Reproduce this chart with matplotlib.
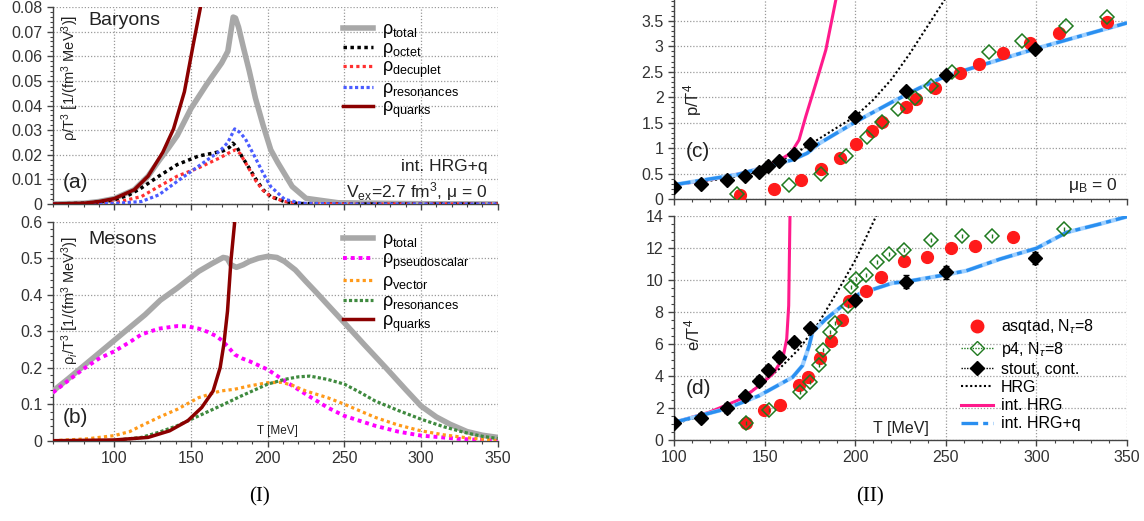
import matplotlib
matplotlib.use("Agg")
import matplotlib.pyplot as plt
from matplotlib.ticker import MultipleLocator, AutoMinorLocator, FuncFormatter
from matplotlib.lines import Line2D

plt.rcParams['font.family'] = ['Liberation Sans', 'DejaVu Sans']
plt.rcParams['mathtext.fontset'] = 'custom'
plt.rcParams['mathtext.rm'] = 'Liberation Sans'
plt.rcParams['mathtext.it'] = 'Liberation Sans:italic'
plt.rcParams['mathtext.bf'] = 'Liberation Sans:bold'

# ---------------- (a) Baryons ----------------
T_bar_total = [60, 80, 90, 100, 113, 122, 129, 135, 141, 150, 160, 170, 174, 176, 177.5, 179, 181, 184, 188, 192, 197, 202, 206.6, 216, 225, 246, 300, 350]
bar_total = [0, 0.0003, 0.001, 0.0022, 0.0058, 0.0113, 0.0175, 0.0225, 0.0278, 0.0388, 0.0484, 0.0573, 0.062, 0.070, 0.0759, 0.0755, 0.0718, 0.064, 0.054, 0.043, 0.032, 0.022, 0.0168, 0.0071, 0.0023, 0.0005, 0.0001, 0]
T_bar_octet = [60, 80, 90, 100, 110, 117.6, 129, 141, 155, 164, 171, 175, 177.3, 180, 183, 188, 192.5, 197, 202, 211, 220, 250, 350]
bar_octet = [0, 0.0003, 0.0008, 0.0016, 0.0038, 0.0065, 0.0113, 0.016, 0.0195, 0.0206, 0.0216, 0.023, 0.0247, 0.023, 0.0195, 0.0145, 0.0099, 0.0058, 0.003, 0.001, 0.0002, 0, 0]
T_bar_dec = [60, 90, 100, 117.6, 129, 141, 155, 169, 176, 179, 182, 185.5, 192.5, 197, 202, 211, 220, 250, 350]
bar_dec = [0, 0.0002, 0.0005, 0.003, 0.0071, 0.0113, 0.0147, 0.0188, 0.0212, 0.022, 0.0205, 0.0168, 0.0092, 0.0055, 0.003, 0.001, 0.0002, 0, 0]
T_bar_res = [60, 100, 117.6, 129, 141, 155, 169, 174, 178.5, 182, 185.5, 192.5, 197, 202, 211, 222, 250, 350]
bar_res = [0, 0.0002, 0.001, 0.0037, 0.0092, 0.0154, 0.0216, 0.025, 0.0305, 0.029, 0.0264, 0.0181, 0.0125, 0.0071, 0.0019, 0.0003, 0, 0]
T_bar_q = [60, 80, 90, 100, 113, 122, 131.6, 138.6, 145.7, 151.5, 156.2, 158]
bar_q = [0, 0.0003, 0.001, 0.0022, 0.0058, 0.0113, 0.021, 0.0305, 0.0456, 0.0649, 0.080, 0.088]

# ---------------- (b) Mesons ----------------
T_mes_total = [60, 70, 80, 90, 100, 110, 120, 130, 141, 155, 164, 171, 173.5, 176, 179.6, 184, 188, 194, 200, 206, 211, 218, 225, 232, 239, 250, 262.8, 277, 290, 300, 310, 319, 330, 340, 350]
mes_total = [0.136, 0.17, 0.205, 0.24, 0.275, 0.31, 0.345, 0.385, 0.418, 0.464, 0.486, 0.502, 0.500, 0.482, 0.475, 0.482, 0.491, 0.50, 0.505, 0.502, 0.491, 0.468, 0.436, 0.405, 0.373, 0.323, 0.264, 0.20, 0.14, 0.095, 0.065, 0.045, 0.025, 0.015, 0.009]
T_mes_ps = [60, 70, 80, 90, 100, 110, 117.6, 129, 141, 148, 155, 161, 166.7, 170, 173.8, 178.5, 183, 188, 200, 211, 225, 239, 250, 270, 285, 300, 325, 350]
mes_ps = [0.132, 0.165, 0.197, 0.225, 0.245, 0.27, 0.291, 0.307, 0.314, 0.313, 0.307, 0.298, 0.286, 0.275, 0.259, 0.236, 0.226, 0.218, 0.195, 0.164, 0.127, 0.091, 0.068, 0.041, 0.025, 0.014, 0.005, 0]
T_mes_vec = [60, 82, 100, 110, 117.6, 129, 141, 155, 169, 178.5, 188, 200, 209, 216, 225, 239, 250, 260, 270, 285, 300, 315, 328, 350]
mes_vec = [0, 0.005, 0.014, 0.025, 0.041, 0.064, 0.086, 0.118, 0.136, 0.141, 0.15, 0.159, 0.16, 0.152, 0.136, 0.118, 0.10, 0.082, 0.064, 0.043, 0.027, 0.016, 0.009, 0]
T_mes_res = [60, 90, 100, 117.6, 129, 141, 155, 169, 183, 200, 211, 220, 227.6, 239, 250, 260, 270, 285, 300, 315, 328, 340, 350]
mes_res = [0, 0, 0.001, 0.009, 0.023, 0.041, 0.068, 0.095, 0.123, 0.155, 0.168, 0.175, 0.177, 0.168, 0.155, 0.133, 0.109, 0.083, 0.059, 0.038, 0.023, 0.012, 0.006]
T_mes_q = [60, 100, 122, 136, 148, 157, 164.4, 169, 171.4, 173.8, 176, 178.5, 179]
mes_q = [0, 0.002, 0.009, 0.027, 0.055, 0.091, 0.136, 0.20, 0.264, 0.355, 0.491, 0.60, 0.63]

# ---------------- (c), (d) lattice data ----------------
T_stout = [100, 115, 129, 139, 147, 152, 158, 166, 175, 200, 228, 250, 299]
p_stout = [0.23, 0.29, 0.37, 0.46, 0.54, 0.64, 0.74, 0.89, 1.08, 1.62, 2.13, 2.44, 2.95]
e_stout = [1.06, 1.40, 2.0, 2.73, 3.67, 4.40, 5.17, 6.10, 6.98, 8.77, 9.90, 10.48, 11.38]
e_stout_err = [0.1, 0.3, 0.3, 0.3, 0.3, 0.3, 0.3, 0.3, 0.3, 0.3, 0.4, 0.4, 0.4]

T_asq_p = [136.6, 155.4, 170, 181, 191.4, 200.6, 209, 214.8, 228, 233.5, 244, 257.9, 268.4, 281.8, 296.7, 312.5, 338.9]
p_asq = [0.085, 0.20, 0.38, 0.58, 0.80, 1.08, 1.33, 1.51, 1.80, 1.96, 2.19, 2.47, 2.65, 2.87, 3.06, 3.26, 3.47]
T_asq_e = [140, 149.6, 158.3, 169, 174.1, 180.4, 186.8, 192.5, 196.6, 206.2, 214.4, 227.2, 239.7, 252.6, 266.2, 286.9]
e_asq = [1.04, 1.90, 2.21, 3.46, 3.92, 5.13, 6.21, 7.5, 8.71, 9.33, 10.21, 11.21, 11.42, 11.98, 12.10, 12.71]

T_p4_p = [134.9, 163.2, 181, 194.8, 206.3, 215, 223.4, 233, 242, 253.2, 273.9, 291.8, 316.3, 338.9]
p_p4 = [0.09, 0.27, 0.50, 0.84, 1.22, 1.51, 1.76, 1.98, 2.22, 2.49, 2.88, 3.11, 3.39, 3.58]
T_p4_e = [140, 152.7, 169.3, 174.9, 180.1, 182.5, 186, 188.8, 195.8, 197.6, 200.7, 205.9, 212.3, 218.8, 227.2, 242, 259, 275.3, 315]
e_p4 = [1.06, 1.90, 2.98, 3.60, 4.69, 5.63, 6.73, 7.31, 8.40, 9.54, 10.06, 10.33, 11.15, 11.63, 11.88, 12.5, 12.73, 12.73, 13.19]

# model curves
T_hrg_p = [100, 120, 140, 150, 158, 166, 175, 187.5, 200, 210, 220, 230, 240, 250]
p_hrg = [0.28, 0.36, 0.48, 0.58, 0.72, 0.88, 1.07, 1.35, 1.62, 1.95, 2.35, 2.85, 3.4, 3.95]
T_ihrg_p = [100, 115, 130, 140, 150, 158, 164.5, 169, 172.7, 178.3, 183.8, 189.3, 190.5]
p_ihrg = [0.28, 0.35, 0.45, 0.53, 0.63, 0.76, 0.90, 1.16, 1.62, 2.27, 2.93, 3.91, 4.1]
T_ihrgq_p = [100, 135, 158, 165.4, 173.5, 180.1, 200.4, 220.6, 235.4, 250.4, 300.2, 350]
p_ihrgq = [0.28, 0.48, 0.70, 0.77, 0.90, 1.09, 1.52, 1.91, 2.18, 2.42, 2.96, 3.46]

T_hrg_e = [100, 128.5, 147, 158, 169, 180, 191, 200.4, 211.4, 213]
e_hrg = [1.0, 1.94, 3.4, 4.44, 5.69, 7.35, 9.44, 11.31, 13.96, 14.3]
T_ihrg_e = [100, 119.3, 137.8, 147, 154.5, 160, 162.2, 163.3, 164, 164.1]
e_ihrg = [1.1, 1.73, 2.6, 3.4, 4.13, 5.06, 6.31, 8.4, 14, 14.5]
T_ihrgq_e = [100, 128.5, 147, 165.4, 170.9, 174.6, 176.4, 183.8, 193, 202.2, 220.6, 228.2, 250, 261.4, 280, 300, 316.8, 335, 350]
e_ihrgq = [1.1, 1.94, 2.77, 3.92, 4.65, 5.9, 6.73, 7.56, 8.40, 9.13, 9.81, 9.9, 10.33, 10.58, 11.31, 11.98, 12.98, 13.5, 13.96]

# ---------------- figure ----------------
W, H = 1144, 521
fig = plt.figure(figsize=(W / 100, H / 100), dpi=100)
ax_a = fig.add_axes([53 / W, 1 - 204 / H, 444.7 / W, 197 / H])
ax_b = fig.add_axes([53 / W, 1 - 440.7 / H, 444.7 / W, 219 / H])
ax_c = fig.add_axes([674 / W, 1 - 199 / H, 453 / W, 199 / H])
ax_d = fig.add_axes([674 / W, 1 - 440 / H, 453 / W, 224 / H])

fmt = FuncFormatter(lambda v, p: '%g' % round(v, 6))
TXT = '#222222'


def style(ax, xlim, ylim, ymaj, yminor_n, xlabels):
    ax.set_xlim(*xlim)
    ax.set_ylim(*ylim)
    ax.xaxis.set_major_locator(MultipleLocator(50))
    ax.xaxis.set_minor_locator(MultipleLocator(10))
    ax.yaxis.set_major_locator(MultipleLocator(ymaj))
    ax.yaxis.set_minor_locator(AutoMinorLocator(yminor_n))
    ax.yaxis.set_major_formatter(fmt)
    ax.grid(True, which='major', ls=(0, (1, 1.5)), color='#9a9a9a', lw=0.9)
    ax.set_axisbelow(True)
    for s in ('top', 'right'):
        ax.spines[s].set_visible(False)
    for s in ('left', 'bottom'):
        ax.spines[s].set_color('#444444')
        ax.spines[s].set_linewidth(1.0)
    ax.tick_params(which='major', direction='out', length=4, width=1, colors='#444444',
                   labelsize=11.5, labelcolor='#333333')
    ax.tick_params(which='minor', direction='out', length=2.5, width=0.8, colors='#444444')
    if not xlabels:
        ax.tick_params(axis='x', labelbottom=False)


LEG = dict(frameon=False, fontsize=13, handlelength=1.7, borderaxespad=0, handletextpad=0.5)

# ---- (a)
style(ax_a, (60, 350), (0, 0.08), 0.01, 5, False)
ax_a.plot(T_bar_total, bar_total, color='#a8a8a8', lw=4, label='ρ$_{\\mathrm{total}}$', zorder=3)
ax_a.plot(T_bar_octet, bar_octet, color='black', lw=2.5, ls=(0, (1, 1)), label='ρ$_{\\mathrm{octet}}$', zorder=4)
ax_a.plot(T_bar_dec, bar_dec, color='#ff3030', lw=2.3, ls=(0, (1, 1)), label='ρ$_{\\mathrm{decuplet}}$', zorder=4)
ax_a.plot(T_bar_res, bar_res, color='#4a5cff', lw=2.3, ls=(0, (1, 0.8)), label='ρ$_{\\mathrm{resonances}}$', zorder=4)
ax_a.plot(T_bar_q, bar_q, color='#8b0000', lw=2.5, label='ρ$_{\\mathrm{quarks}}$', zorder=5)
ax_a.legend(loc='upper left', bbox_to_anchor=(0.635, 0.965), labelspacing=0.0, **LEG)
ax_a.text(0.08, 0.93, 'Baryons', transform=ax_a.transAxes, fontsize=14, va='center', color=TXT)
ax_a.text(0.022, 0.11, '(a)', transform=ax_a.transAxes, fontsize=15, va='center', color=TXT)
ax_a.text(0.977, 0.19, 'int. HRG+q', transform=ax_a.transAxes, fontsize=12.5, ha='right', va='center', color=TXT)
ax_a.text(0.977, 0.065, 'V$_{\\mathrm{ex}}$=2.7 fm$^3$, μ = 0', transform=ax_a.transAxes, fontsize=12.5,
          ha='right', va='center', color=TXT)
ax_a.text(0.038, 0.64, 'ρ/T$^3$ $\\left[\\mathrm{1/(fm^3\\ MeV^3)}\\right]$', transform=ax_a.transAxes,
          rotation=90, fontsize=10.5, ha='center', va='center', color=TXT)

# ---- (b)
style(ax_b, (60, 350), (0, 0.6), 0.1, 5, True)
ax_b.plot(T_mes_total, mes_total, color='#a8a8a8', lw=4, label='ρ$_{\\mathrm{total}}$', zorder=3)
ax_b.plot(T_mes_ps, mes_ps, color='#ff00ff', lw=2.8, ls=(0, (1, 1)), label='ρ$_{\\mathrm{pseudoscalar}}$', zorder=4)
ax_b.plot(T_mes_vec, mes_vec, color='#ff9a1a', lw=2.3, ls=(0, (1, 1)), label='ρ$_{\\mathrm{vector}}$', zorder=4)
ax_b.plot(T_mes_res, mes_res, color='#3f8a3f', lw=2.3, ls=(0, (1, 0.7)), label='ρ$_{\\mathrm{resonances}}$', zorder=4)
ax_b.plot(T_mes_q, mes_q, color='#8b0000', lw=2.5, label='ρ$_{\\mathrm{quarks}}$', zorder=5)
ax_b.legend(loc='upper left', bbox_to_anchor=(0.635, 0.99), labelspacing=0.05, **LEG)
ax_b.text(0.08, 0.92, 'Mesons', transform=ax_b.transAxes, fontsize=14, va='center', color=TXT)
ax_b.text(0.022, 0.105, '(b)', transform=ax_b.transAxes, fontsize=15, va='center', color=TXT)
ax_b.text(0.505, 0.045, 'T [MeV]', transform=ax_b.transAxes, fontsize=8.5, ha='center', va='center', color=TXT)
ax_b.text(0.038, 0.64, 'ρ$_i$/T$^3$ $\\left[\\mathrm{1/(fm^3\\ MeV^3)}\\right]$', transform=ax_b.transAxes,
          rotation=90, fontsize=10.5, ha='center', va='center', color=TXT)

# ---- (c)
RED = '#ff1a1a'
GREEN = '#1f7a1f'
PINK = '#ff1a8c'
BLUE = '#2a8ff0'
style(ax_c, (100, 350), (0, 3.91), 0.5, 5, False)
ax_c.plot(T_hrg_p, p_hrg, color='black', lw=1.5, ls=(0, (1, 1.2)), zorder=3)
ax_c.plot(T_ihrg_p, p_ihrg, color=PINK, lw=2.2, zorder=3)
ax_c.plot(T_ihrgq_p, p_ihrgq, color='#9fd0ff', lw=3, zorder=3)
ax_c.plot(T_ihrgq_p, p_ihrgq, color=BLUE, lw=2.4, ls=(0, (5, 1.5, 1.5, 1.5)), zorder=3)
ax_c.plot(T_asq_p, p_asq, 'o', color=RED, ms=8.5, mec=RED, zorder=5)
ax_c.plot(T_p4_p, p_p4, 'D', ms=7, mfc='none', mec=GREEN, mew=1.1, zorder=6)
ax_c.plot(T_stout, p_stout, 'D', ms=7, color='black', zorder=7)
ax_c.text(0.025, 0.24, '(c)', transform=ax_c.transAxes, fontsize=15, va='center', color=TXT)
ax_c.text(0.04, 0.5, 'p/T$^4$', transform=ax_c.transAxes, rotation=90, fontsize=12, ha='center', va='center', color=TXT)
ax_c.text(0.978, 0.07, 'μ$_{\\mathrm{B}}$ = 0', transform=ax_c.transAxes, fontsize=12.5, ha='right', va='center', color=TXT)

# ---- (d)
style(ax_d, (100, 350), (0, 14), 2, 4, True)
ax_d.plot(T_hrg_e, e_hrg, color='black', lw=1.5, ls=(0, (1, 1.2)), zorder=3)
ax_d.plot(T_ihrg_e, e_ihrg, color=PINK, lw=2.2, zorder=3)
ax_d.plot(T_ihrgq_e, e_ihrgq, color='#9fd0ff', lw=3, zorder=3)
ax_d.plot(T_ihrgq_e, e_ihrgq, color=BLUE, lw=2.4, ls=(0, (5, 1.5, 1.5, 1.5)), zorder=3)
ax_d.plot(T_asq_e, e_asq, 'o', color=RED, ms=8.5, mec=RED, zorder=5)
ax_d.errorbar(T_p4_e, e_p4, yerr=0.12, fmt='D', ms=7, mfc='none', mec=GREEN, mew=1.1,
              ecolor=GREEN, elinewidth=1, capsize=0, zorder=6)
ax_d.errorbar(T_stout, e_stout, yerr=e_stout_err, fmt='D', ms=7, color='black',
              ecolor='black', elinewidth=1, capsize=2, zorder=7)
ax_d.text(0.025, 0.23, '(d)', transform=ax_d.transAxes, fontsize=15, va='center', color=TXT)
ax_d.text(0.04, 0.47, 'e/T$^4$', transform=ax_d.transAxes, rotation=90, fontsize=12, ha='center', va='center', color=TXT)
ax_d.text(0.5, 0.05, 'T [MeV]', transform=ax_d.transAxes, fontsize=11.5, ha='center', va='center', color=TXT)

handles = [
    Line2D([], [], ls='none', marker='o', ms=9, color=RED),
    Line2D([], [], ls=(0, (1, 1)), marker='D', ms=7, mfc='none', mec=GREEN, color=GREEN, lw=1),
    Line2D([], [], ls=(0, (1, 1)), marker='D', ms=7, color='black', lw=1),
    Line2D([], [], ls=(0, (1, 1.2)), color='black', lw=1.5),
    Line2D([], [], color=PINK, lw=2.2),
    Line2D([], [], color=BLUE, lw=2.4, ls=(0, (5, 1.5, 1.5, 1.5))),
]
labels = ['asqtad, N$_{\\tau}$=8', 'p4, N$_{\\tau}$=8', 'stout, cont.', 'HRG', 'int. HRG', 'int. HRG+q']
ax_d.legend(handles, labels, loc='lower left', bbox_to_anchor=(0.62, 0.01), frameon=False,
            fontsize=11.5, handlelength=2.0, labelspacing=0.2, borderaxespad=0, handletextpad=0.5)

fig.text(260 / W, 1 - 497 / H, '(I)', family='Liberation Serif', fontsize=15, ha='center', va='center')
fig.text(870 / W, 1 - 497 / H, '(II)', family='Liberation Serif', fontsize=15, ha='center', va='center')

fig.savefig('out.png', dpi=100)
